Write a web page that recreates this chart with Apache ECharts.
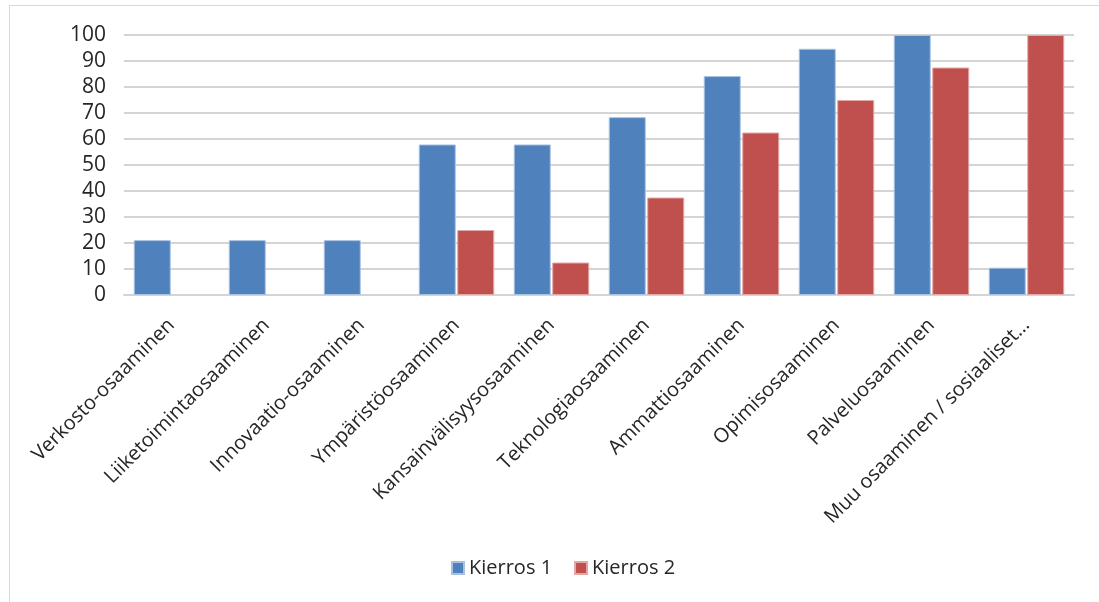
<!DOCTYPE html>
<html>
<head>
<meta charset="utf-8">
<script src="https://cdn.jsdelivr.net/npm/echarts@6/dist/echarts.min.js"></script>
<style>
  html, body { margin: 0; padding: 0; background: #ffffff; overflow: hidden; }
  #frame {
    position: absolute; left: 9px; top: 5px; width: 1100px; height: 620px;
    border: 1px solid #d9d9d9; box-sizing: border-box;
  }
  #chart { position: absolute; left: 0; top: 0; width: 1099px; height: 602px; }
</style>
</head>
<body>
<div id="frame"></div>
<div id="chart"></div>
<script>
const categories = [
  "Verkosto-osaaminen",
  "Liiketoimintaosaaminen",
  "Innovaatio-osaaminen",
  "Ympäristöosaaminen",
  "Kansainvälisyysosaaminen",
  "Teknologiaosaaminen",
  "Ammattiosaaminen",
  "Opimisosaaminen",
  "Palveluosaaminen",
  "Muu osaaminen / sosiaaliset…"
];
const round1 = [21.1, 21.1, 21.1, 57.9, 57.9, 68.4, 84.2, 94.7, 100, 10.5];
const round2 = [null, null, null, 25, 12.5, 37.5, 62.5, 75, 87.5, 100];
const yTicks = [0, 10, 20, 30, 40, 50, 60, 70, 80, 90, 100];

const chart = echarts.init(document.getElementById("chart"));

const font = "'Open Sans', 'Noto Sans', sans-serif";

chart.setOption({
  animation: false,
  textStyle: { fontFamily: font },
  grid: { left: 124, right: 25, top: 35, bottom: 307 },
  legend: {
    bottom: 19,
    left: 446,
    itemWidth: 12,
    itemHeight: 12,
    itemGap: 22,
    icon: "rect",
    textStyle: { fontSize: 20, color: "#262626", fontFamily: font },
    data: ["Kierros 1", "Kierros 2"]
  },
  xAxis: {
    type: "category",
    data: categories,
    axisLine: { show: true, lineStyle: { color: "#d4d4d4", width: 2 } },
    axisTick: { show: false },
    axisLabel: {
      interval: 0,
      rotate: 45,
      margin: 27,
      fontSize: 20,
      color: "#262626",
      fontFamily: font
    }
  },
  yAxis: {
    type: "value",
    min: yTicks[0],
    max: yTicks[yTicks.length - 1],
    interval: 10,
    axisLine: { show: false },
    axisTick: { show: false },
    splitLine: { lineStyle: { color: "#d4d4d4", width: 2 } },
    axisLabel: { fontSize: 21, color: "#262626", margin: 18, fontFamily: font }
  },
  series: [
    {
      name: "Kierros 1",
      type: "bar",
      data: round1,
      barWidth: 37,
      barGap: "4%",
      itemStyle: { color: "#4f81bd", borderColor: "#a9c2e2", borderWidth: 1 }
    },
    {
      name: "Kierros 2",
      type: "bar",
      data: round2,
      barWidth: 37,
      itemStyle: { color: "#c0504d", borderColor: "#e3a9a7", borderWidth: 1 }
    }
  ]
});
</script>
</body>
</html>
